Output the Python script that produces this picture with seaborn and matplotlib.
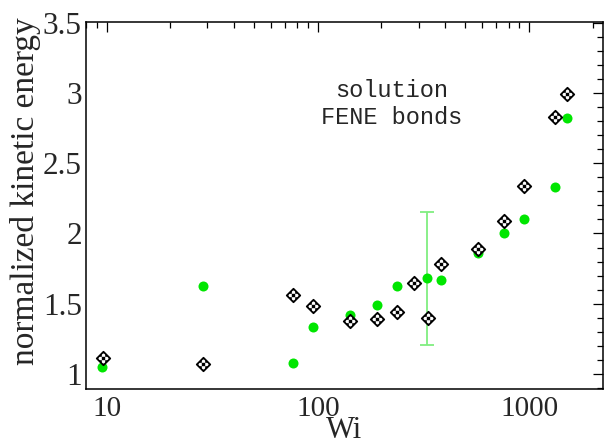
import numpy as np
import pandas as pd
import matplotlib
matplotlib.use("Agg")
import matplotlib.pyplot as plt
import seaborn as sns
from matplotlib.path import Path
from matplotlib.markers import MarkerStyle
from matplotlib.ticker import LogLocator, FuncFormatter, MultipleLocator

# data
wi_solution = [9.6, 28.6, 76, 94.6, 142, 190, 238, 285, 333, 381, 571, 761, 949, 1327, 1517]
ke_solution = [1.116, 1.071, 1.562, 1.482, 1.377, 1.391, 1.443, 1.646, 1.401, 1.783,
               1.888, 2.089, 2.338, 2.831, 2.991]

wi_fene = [9.5, 28.6, 76.6, 95.1, 142, 190, 238, 327, 381, 571, 761, 949, 1327, 1510]
ke_fene = [1.052, 1.628, 1.080, 1.337, 1.420, 1.491, 1.628, 1.681, 1.669, 1.859,
           2.006, 2.103, 2.333, 2.824]

err_wi = [327]
err_ke = [1.681]
err_val = [0.472]

legend_labels = ["solution", "FENE bonds"]

sol = pd.DataFrame({"Wi": wi_solution, "ke": ke_solution})
fene = pd.DataFrame({"Wi": wi_fene, "ke": ke_fene})


def clip_to_diamond(poly):
    # clip a convex polygon against |x|+|y| <= 1
    edges = [(1, 1), (-1, 1), (-1, -1), (1, -1)]
    for a, b in edges:
        out = []
        n = len(poly)
        for k in range(n):
            p, q = poly[k], poly[(k + 1) % n]
            fp = a * p[0] + b * p[1] - 1
            fq = a * q[0] + b * q[1] - 1
            if fp <= 0:
                out.append(p)
            if fp * fq < 0:
                t = fp / (fp - fq)
                out.append((p[0] + t * (q[0] - p[0]), p[1] + t * (q[1] - p[1])))
        poly = out
        if not poly:
            break
    return poly


# checkered diamond marker: outline + black checker cells
outline = Path([(0, 1), (1, 0), (0, -1), (-1, 0), (0, 1)],
               [Path.MOVETO, Path.LINETO, Path.LINETO, Path.LINETO, Path.CLOSEPOLY])
verts, codes = [(0, 1), (1, 0), (0, -1), (-1, 0)], [Path.MOVETO] * 4  # keep same scale
c = 0.5
for i in range(-2, 3):
    for j in range(-2, 3):
        if (i + j) % 2:
            continue
        x0, y0 = i * c - c / 2, j * c - c / 2
        cell = clip_to_diamond([(x0, y0), (x0 + c, y0), (x0 + c, y0 + c), (x0, y0 + c)])
        if len(cell) < 3:
            continue
        verts += cell + [cell[0]]
        codes += [Path.MOVETO] + [Path.LINETO] * (len(cell) - 1) + [Path.CLOSEPOLY]
checks = Path(verts, codes)

sns.set_style("white")
plt.rcParams["font.family"] = ["Liberation Serif", "DejaVu Serif"]

fig = plt.figure(figsize=(6.04, 4.47), dpi=100)
ax = fig.add_axes([86 / 604, 1 - 389 / 447, 517 / 604, 367 / 447])

green = "#00e600"
ax.errorbar(err_wi, err_ke, yerr=err_val, fmt="none", ecolor="#80ee80",
            elinewidth=1.3, capsize=4.7, capthick=1.3, zorder=2)
sns.scatterplot(data=fene, x="Wi", y="ke", ax=ax, color=green, s=52,
                linewidth=0, marker="o", zorder=3)
sns.scatterplot(data=sol, x="Wi", y="ke", ax=ax, color="white", s=95,
                edgecolor="black", linewidth=1.25, marker=MarkerStyle(outline), zorder=4)
sns.scatterplot(data=sol, x="Wi", y="ke", ax=ax, color="black", s=95,
                linewidth=0, marker=MarkerStyle(checks), zorder=5)

ax.set_xscale("log")
ax.set_xlim(7.98, 2240)
ax.set_ylim(0.893, 3.505)

ax.xaxis.set_major_locator(LogLocator(base=10))
ax.xaxis.set_minor_locator(LogLocator(base=10, subs=np.arange(2, 10)))
ax.xaxis.set_major_formatter(FuncFormatter(lambda v, p: "%d" % round(v)))
ax.xaxis.set_minor_formatter(FuncFormatter(lambda v, p: ""))
ax.yaxis.set_major_locator(MultipleLocator(0.5))
ax.yaxis.set_minor_locator(MultipleLocator(0.1))
ax.yaxis.set_major_formatter(FuncFormatter(lambda v, p: "%g" % v))

ax.tick_params(which="both", direction="in", top=True, right=True, width=0.9, color="black")
ax.tick_params(which="major", length=7.2)
ax.tick_params(which="minor", length=4.3)
ax.tick_params(axis="x", labelsize=21, pad=5)
ax.tick_params(axis="y", labelsize=22.5, pad=3)
for sp in ax.spines.values():
    sp.set_linewidth(1.1)
    sp.set_color("black")

ax.set_xlabel("Wi", fontsize=22, labelpad=-4)
ax.set_ylabel("normalized kinetic energy", fontsize=24)
ax.yaxis.set_label_coords(-0.087, 0.538)

ax.text(0.592, 0.812, legend_labels[0], transform=ax.transAxes, ha="center", va="center",
        family=["Liberation Mono", "DejaVu Sans Mono"], fontsize=17)
ax.text(0.592, 0.741, legend_labels[1], transform=ax.transAxes, ha="center", va="center",
        family=["Liberation Mono", "DejaVu Sans Mono"], fontsize=17)

fig.savefig("out.png", dpi=100)
